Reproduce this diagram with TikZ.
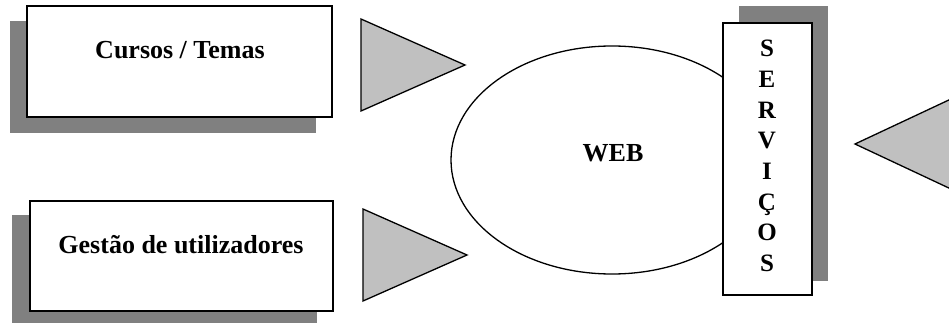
\documentclass[tikz,border=0pt]{standalone}
\usepackage{fontspec}
\setmainfont{Liberation Serif}
\usetikzlibrary{shapes.geometric}
\definecolor{shadowgray}{HTML}{808080}
\definecolor{arrowgray}{HTML}{C0C0C0}
\tikzset{
  shade box/.style={fill=shadowgray, draw=none},
  panel/.style={fill=white, draw=black, line width=1.5pt},
  pointer/.style={fill=arrowgray, draw=black, line width=1.3pt, line join=miter},
  lbl/.style={font=\fontsize{26}{31}\selectfont\bfseries, inner sep=0pt},
}
\begin{document}
\begin{tikzpicture}[x=1pt, y=-1pt]
\useasboundingbox (0,0) rectangle (949,323);

% Cursos / Temas panel with drop shadow
\fill[shade box] (10,21) rectangle (316,133);
\draw[panel] (27,6) rectangle (332,117);
\coordinate (cursos) at (179.5,61.5);
\node[lbl, anchor=base] (cursosT) at (180,59) {Cursos / Temas};

% Gestao de utilizadores panel with drop shadow
\fill[shade box] (12,215) rectangle (317,330);
\draw[panel] (30,201) rectangle (333,311);
\coordinate (gestao) at (181.5,256);
\node[lbl, anchor=base] (gestaoT) at (181,253) {Gestão de utilizadores};

% Triangular pointers towards the web
\draw[pointer] (361,19) coordinate (p1a) -- (361,111) -- (465,65) coordinate (p1tip) -- cycle;
\draw[pointer] (363,209) coordinate (p2a) -- (363,301) -- (467,255) coordinate (p2tip) -- cycle;

% Web ellipse
\draw[line width=1.3pt, fill=white] (612,160) ellipse [x radius=161, y radius=114];
\node[lbl, anchor=base] (web) at (613,161) {WEB};

% Servicos column with drop shadow (offset up and right)
\fill[shade box] (739,6) rectangle (828,281);
\draw[panel] (723,23) rectangle (812,295);
\node[lbl, font=\fontsize{25}{30.7}\selectfont\bfseries, align=center, anchor=north]
  (servicos) at (767,40) {S\\E\\R\\V\\I\\Ç\\O\\S};

% Pointer coming in from the right
\draw[pointer] (855,144) coordinate (p3tip) -- (1000,76) -- (1000,212) -- cycle;
\end{tikzpicture}
\end{document}
